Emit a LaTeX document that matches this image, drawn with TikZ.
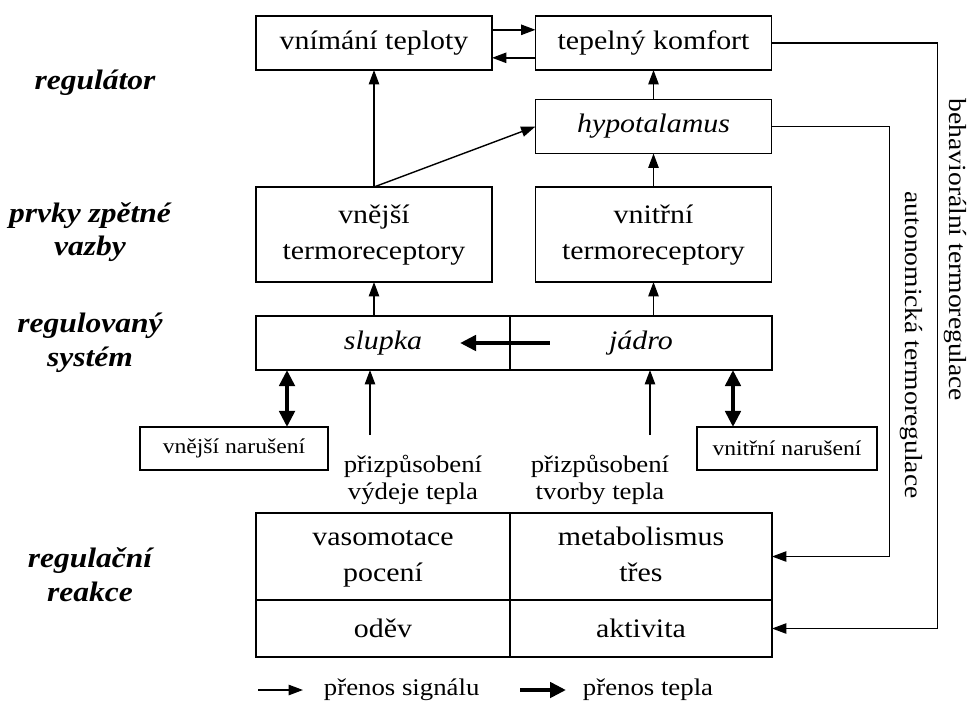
\documentclass[tikz,border=0pt]{standalone}
\usepackage{fontspec}
\setmainfont{Liberation Serif}[FakeStretch=1.12]
\usetikzlibrary{arrows.meta,positioning,calc}

\tikzset{
    sigtip/.tip={Triangle[length=0.36cm,width=0.26cm]},
    heattip/.tip={Triangle[length=0.4cm,width=0.38cm]}
}

\begin{document}
\begin{tikzpicture}[x=0.025cm, y=-0.025cm,
    box/.style={draw, line width=1.1pt, inner sep=0pt, outer sep=0pt, align=center, font=\fontsize{19}{25}\selectfont},
    upper/.style={box, minimum width=5.9cm, minimum height=1.35cm},
    left half/.style={box, minimum width=6.35cm},
    right half/.style={box, minimum width=6.55cm},
    distbox/.style={box, minimum height=1.075cm, font=\fontsize{15}{18}\selectfont},
    level/.style={align=center, font=\fontsize{20}{24}\selectfont\bfseries\itshape},
    adjust/.style={align=center, font=\fontsize{17}{19}\selectfont},
    loop label/.style={rotate=-90, font=\fontsize{17.5}{20}\selectfont},
    signal/.style={-sigtip, line width=1pt},
    heat/.style={-heattip, line width=3.5pt}
]
    \useasboundingbox (0,0) rectangle (967,705);

    % levels
    \node[level] (lreg) at (95,83) {regulátor};
    \node[level] (lfb) at (90,232) {prvky zpětné\\vazby};
    \node[level] (lsys) at (90,343) {regulovaný\\systém};
    \node[level] (lreact) at (90,575) {regulační\\reakce};

    % regulator
    \node[upper] (perc) at (374,43) {vnímání teploty};
    \node[upper] (comfort) at (653.5,43) {tepelný komfort};
    \node[upper, font=\fontsize{19}{25}\selectfont\itshape] (hypo) at (653.5,126.5) {hypotalamus};

    % receptors
    \node[upper, minimum height=2.375cm] (extrec) at (374,234.5) {vnější\strut\\termoreceptory\strut};
    \node[upper, minimum height=2.375cm] (intrec) at (653.5,234.5) {vnitřní\strut\\termoreceptory\strut};

    % system
    \node[left half, minimum height=1.35cm, font=\fontsize{19}{25}\selectfont\itshape] (shell) at (383,343) {slupka};
    \node[right half, minimum height=1.35cm, font=\fontsize{19}{25}\selectfont\itshape] (core) at (641,343) {jádro};
    \node[distbox, minimum width=4.7cm] (extdist) at (234,448.5) {vnější narušení};
    \node[distbox, minimum width=4.5cm] (intdist) at (787,448.5) {vnitřní narušení};
    \node[adjust] (loss) at (413,480) {přizpůsobení\\výdeje tepla};
    \node[adjust] (gain) at (600,480) {přizpůsobení\\tvorby tepla};
    \coordinate (lossend) at (370,435);
    \coordinate (gainend) at (650,435);

    % reactions
    \node[left half, minimum height=2.175cm] (vaso) at (383,556.5) {vasomotace\strut\\pocení\strut};
    \node[right half, minimum height=2.175cm] (metab) at (641,556.5) {metabolismus\strut\\třes\strut};
    \node[left half, minimum height=1.425cm] (cloth) at (383,628.5) {oděv};
    \node[right half, minimum height=1.425cm] (activ) at (641,628.5) {aktivita};

    % signals
    \draw[signal] ([yshift=0.33cm]perc.east) -- ([yshift=0.33cm]comfort.west);
    \draw[signal] ([yshift=-0.37cm]comfort.west) -- ([yshift=-0.37cm]perc.east);
    \draw[signal] (extrec.north) -- (perc.south);
    \draw[signal] (extrec.north) -- (hypo.west);
    \draw[signal] (hypo.north) -- (comfort.south);
    \draw[signal] (intrec.north) -- (hypo.south);
    \draw[signal] (extrec.south |- shell.north) -- (extrec.south);
    \draw[signal] (intrec.south |- core.north) -- (intrec.south);
    \draw[signal] (lossend) -- (lossend |- shell.south);
    \draw[signal] (gainend) -- (gainend |- core.south);
    \draw[signal] (comfort.east) -- ++(166,0) |- (activ.east);
    \draw[signal] (hypo.east) -- ++(118,0) |- (metab.east);
    \node[loop label] (behav) at (955,250) {behaviorální termoregulace};
    \node[loop label] (auto) at (911,345) {autonomická termoregulace};

    % heat
    \draw[heat] ([xshift=1cm]core.west) -- ([xshift=-1.25cm]shell.east);
    \coordinate (extx) at ([xshift=1.325cm]extdist.north);
    \coordinate (intx) at ([xshift=-1.35cm]intdist.north);
    \draw[heat, heattip-heattip] (extx |- shell.south) -- (extx);
    \draw[heat, heattip-heattip] (intx |- core.south) -- (intx);

    % legend
    \coordinate (siga) at (258,690);
    \coordinate (sigb) at (303,690);
    \coordinate (heata) at (520,690);
    \coordinate (heatb) at (566,690);
    \draw[signal] (siga) -- (sigb);
    \node[right=0.4cm of sigb, font=\fontsize{17}{20}\selectfont] (sigtext) {přenos signálu};
    \draw[heat] (heata) -- (heatb);
    \node[right=0.3cm of heatb, font=\fontsize{17}{20}\selectfont] (heattext) {přenos tepla};
\end{tikzpicture}
\end{document}
